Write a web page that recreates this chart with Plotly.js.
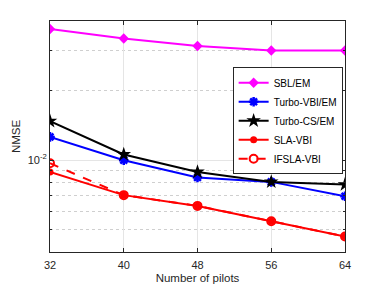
<!DOCTYPE html>
<html>
<head>
<meta charset="utf-8">
<script src="https://cdn.plot.ly/plotly-3.0.1.min.js"></script>
<style>html,body{margin:0;padding:0;background:#fff;}#chart{width:382px;height:286px;}</style>
</head>
<body>
<div id="chart"></div>
<script>
const pilots = [32, 40, 48, 56, 64];
const sblEM = [0.0372, 0.0338, 0.0314, 0.0300, 0.0300];
const turboVBI = [0.01263, 0.0100, 0.00841, 0.00805, 0.00697];
const turboCS = [0.01478, 0.01059, 0.00889, 0.00805, 0.00784];
const slaVBI = [0.00889, 0.00705, 0.00633, 0.00543, 0.00466];
const ifslaVBI = [0.00970, 0.00705, 0.00633, 0.00543, 0.00466];
const xTicks = [32, 40, 48, 56, 64];
const yTickVals = [0.01];
const yTickText = ['10<sup>-2</sup>'];
const yMinor = [0.004, 0.005, 0.006, 0.007, 0.008, 0.009, 0.02, 0.03, 0.04];

const traces = [
  {x: pilots, y: sblEM, name: 'SBL/EM', mode: 'lines+markers',
   line: {color: '#ff00ff', width: 2},
   marker: {symbol: 'diamond', size: 8, color: '#ff00ff'}},
  {x: pilots, y: turboVBI, name: 'Turbo-VBI/EM', mode: 'lines+markers',
   line: {color: '#0000ff', width: 2},
   marker: {symbol: 'asterisk-open', size: 8, color: '#0000ff', line: {color: '#0000ff', width: 2.5}}},
  {x: pilots, y: turboCS, name: 'Turbo-CS/EM', mode: 'lines+markers',
   line: {color: '#000000', width: 2},
   marker: {symbol: 'star', size: 11, color: '#000000'}},
  {x: pilots, y: slaVBI, name: 'SLA-VBI', mode: 'lines+markers',
   line: {color: '#ff0000', width: 2},
   marker: {symbol: 'circle', size: 7, color: '#ff0000'}},
  {x: pilots, y: ifslaVBI, name: 'IFSLA-VBI', mode: 'lines+markers',
   line: {color: '#ff0000', width: 2, dash: 'dash'},
   marker: {symbol: 'circle-open', size: 8, color: '#ff0000', line: {color: '#ff0000', width: 2}}}
];

const layout = {
  width: 382, height: 286,
  margin: {l: 49.5, r: 37, t: 20.7, b: 34.3},
  paper_bgcolor: '#fff', plot_bgcolor: '#fff',
  font: {family: 'Liberation Sans, Arial, sans-serif', size: 11, color: '#262626'},
  showlegend: true,
  legend: {x: 0.992, xanchor: 'right', y: 0.80, yanchor: 'top',
    bgcolor: '#fff', bordercolor: '#262626', borderwidth: 1,
    font: {size: 10, color: '#000'}, tracegroupgap: 0, itemwidth: 30},
  xaxis: {
    range: [32, 64], tickvals: xTicks, ticks: 'inside', ticklen: 4,
    tickcolor: '#262626', showline: true, linecolor: '#262626', linewidth: 1,
    mirror: 'ticks', showgrid: true, gridcolor: '#e5e5e5', zeroline: false,
    ticklabelstandoff: 3,
    title: {text: 'Number of pilots', font: {size: 11.5, color: '#262626'}, standoff: 3},
    tickfont: {size: 11, color: '#262626'}
  },
  yaxis: {
    type: 'log', range: [Math.log10(0.00399), Math.log10(0.0403)],
    tickvals: yTickVals, ticktext: yTickText, ticks: 'inside', ticklen: 4,
    tickcolor: '#262626', showline: true, linecolor: '#262626', linewidth: 1,
    mirror: 'ticks', showgrid: true, gridcolor: '#e5e5e5', zeroline: false,
    minor: {tickmode: 'array', tickvals: yMinor, ticks: 'inside', ticklen: 2,
      tickcolor: '#262626', showgrid: true, gridcolor: '#cfcfcf', griddash: 'dot', gridwidth: 1},
    title: {text: 'NMSE', font: {size: 11.5, color: '#262626'}, standoff: 4},
    tickfont: {size: 11, color: '#262626'}
  }
};

Plotly.newPlot('chart', traces, layout, {displayModeBar: false, staticPlot: true});
</script>
</body>
</html>
